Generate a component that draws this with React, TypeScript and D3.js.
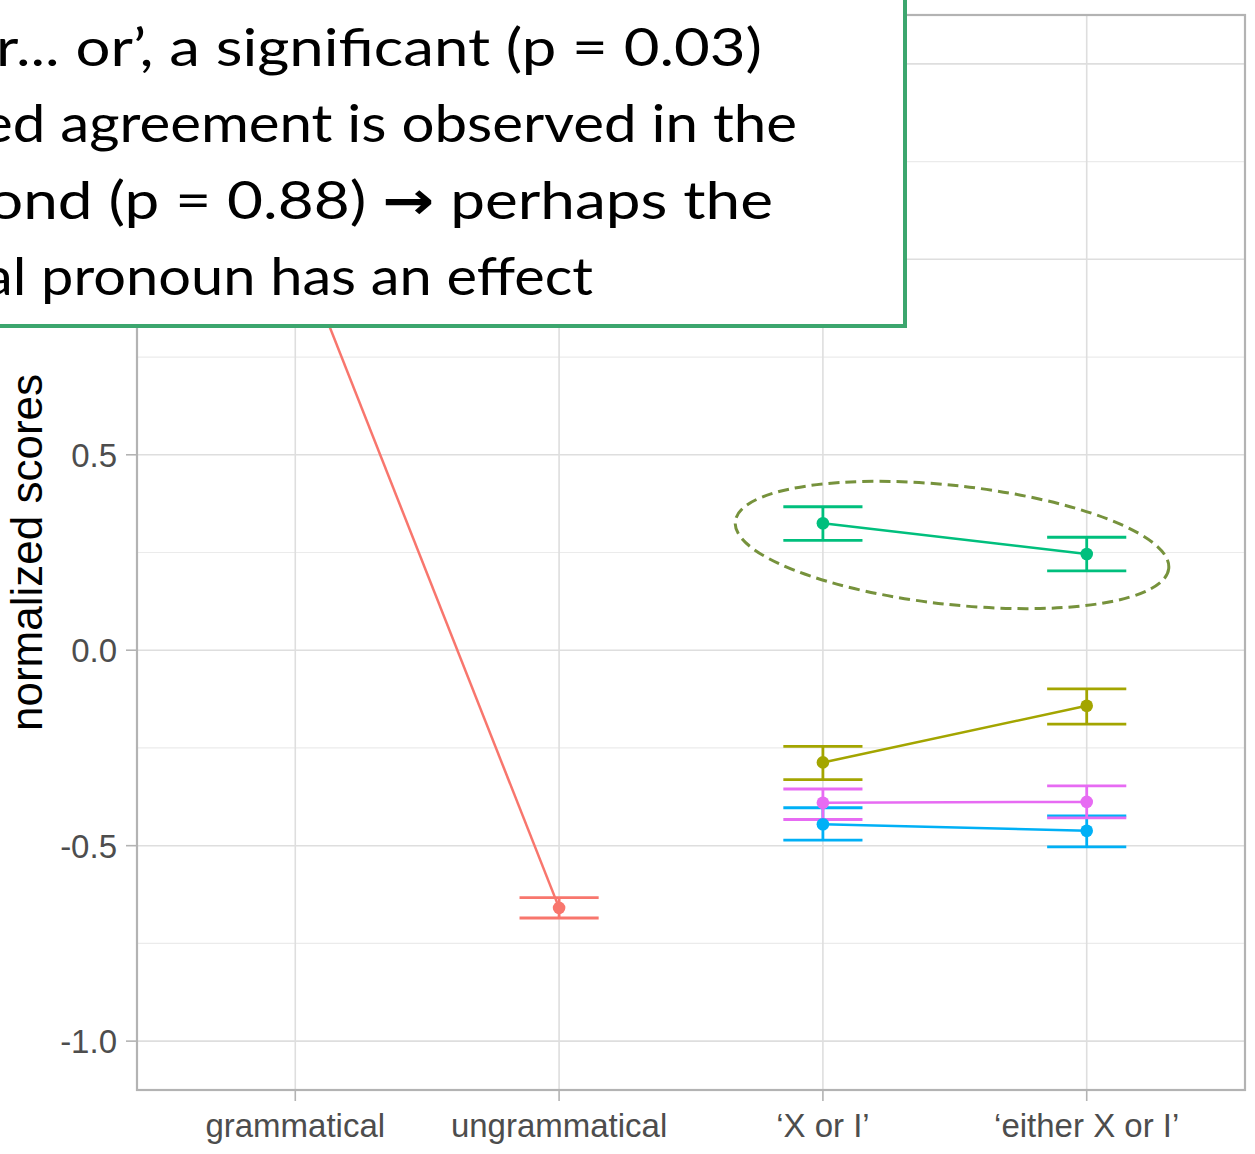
import React from "react";
import * as d3 from "d3";

// ---------- data ----------
const categories = ["grammatical", "ungrammatical", "‘X or I’", "‘either X or I’"];
const yMajorTicks = [-1.0, -0.5, 0.0, 0.5, 1.0, 1.5];
const yMinorTicks = [-0.75, -0.25, 0.25, 0.75, 1.25];
const yTickLabels = ["-1.0", "-0.5", "0.0", "0.5", "1.0", "1.5"];

const seriesNames = ["baseline", "cond A", "cond B", "cond C", "cond D"];
const seriesColors = ["#F8766D", "#A3A500", "#00BF7D", "#00B0F6", "#E76BF3"];

const baselineCats = ["grammatical", "ungrammatical"];
const baselineMean = [1.05, -0.659];
const baselineLow = [1.02, -0.685];
const baselineHigh = [1.08, -0.633];

const condCats = ["‘X or I’", "‘either X or I’"];
const condAMean = [-0.287, -0.142];
const condALow = [-0.331, -0.189];
const condAHigh = [-0.246, -0.099];

const condBMean = [0.325, 0.246];
const condBLow = [0.281, 0.203];
const condBHigh = [0.367, 0.289];

const condCMean = [-0.445, -0.462];
const condCLow = [-0.486, -0.503];
const condCHigh = [-0.403, -0.424];

const condDMean = [-0.39, -0.388];
const condDLow = [-0.433, -0.429];
const condDHigh = [-0.355, -0.347];

// each line: [before-arrow, arrow, after-arrow]
const noteLines: [string, string, string][] = [
  ["r... or’, a significant (p = 0.03)", "", ""],
  ["ed agreement is observed in the", "", ""],
  ["ond (p = 0.88) ", "\u2192", " perhaps the"],
  ["al pronoun has an effect", "", ""],
];

// ---------- layout ----------
const W = 1255;
const H = 1154;
const panel = { left: 137, right: 1245, top: 15, bottom: 1090 };

type Pt = { cat: string; mean: number; lo: number; hi: number };
function build(cats: string[], m: number[], lo: number[], hi: number[]): Pt[] {
  return cats.map((c, i) => ({ cat: c, mean: m[i], lo: lo[i], hi: hi[i] }));
}
const series = [
  build(baselineCats, baselineMean, baselineLow, baselineHigh),
  build(condCats, condAMean, condALow, condAHigh),
  build(condCats, condBMean, condBLow, condBHigh),
  build(condCats, condCMean, condCLow, condCHigh),
  build(condCats, condDMean, condDLow, condDHigh),
];

export default function App() {
  const x = d3
    .scalePoint<string>()
    .domain(categories)
    .range([panel.left, panel.right])
    .padding(0.6);
  const step = x.step();
  const y = d3.scaleLinear().domain([-1.125, 1.625]).range([panel.bottom, panel.top]);
  const line = d3
    .line<Pt>()
    .x((d) => x(d.cat)!)
    .y((d) => y(d.mean));
  const halfBar = step * 0.15;

  const axisFont = "'Liberation Sans', Arial, sans-serif";

  // annotation text x extents
  const noteStart = [-4, -18, -12, -16];
  const noteEnd = [762, 797, 773, 593];
  const noteBase = [66, 142, 219, 295];

  return (
    <svg
      width={W}
      height={H}
      style={{ position: "absolute", left: 0, top: 0, display: "block", background: "#fff" }}
    >
      <rect x={0} y={0} width={W} height={H} fill="#fff" />
      {/* grid */}
      {yMinorTicks.map((t) => (
        <line key={"mi" + t} x1={panel.left} x2={panel.right} y1={y(t)} y2={y(t)} stroke="#ebebeb" strokeWidth={1.2} />
      ))}
      {yMajorTicks.map((t) => (
        <line key={"ma" + t} x1={panel.left} x2={panel.right} y1={y(t)} y2={y(t)} stroke="#dedede" strokeWidth={1.6} />
      ))}
      {categories.map((c) => (
        <line key={"vx" + c} x1={x(c)} x2={x(c)} y1={panel.top} y2={panel.bottom} stroke="#dedede" strokeWidth={1.6} />
      ))}
      {/* panel border */}
      <rect
        x={panel.left}
        y={panel.top}
        width={panel.right - panel.left}
        height={panel.bottom - panel.top}
        fill="none"
        stroke="#b3b3b3"
        strokeWidth={2.2}
      />
      {/* ticks */}
      {yMajorTicks.map((t) => (
        <line key={"yt" + t} x1={panel.left - 11} x2={panel.left} y1={y(t)} y2={y(t)} stroke="#b3b3b3" strokeWidth={1.6} />
      ))}
      {categories.map((c) => (
        <line key={"xt" + c} x1={x(c)} x2={x(c)} y1={panel.bottom} y2={panel.bottom + 11} stroke="#b3b3b3" strokeWidth={1.6} />
      ))}
      {/* tick labels */}
      {yMajorTicks.map((t, i) => (
        <text
          key={"yl" + t}
          x={117}
          y={y(t) + 12}
          textAnchor="end"
          fontFamily={axisFont}
          fontSize={33}
          fill="#4d4d4d"
        >
          {yTickLabels[i]}
        </text>
      ))}
      {categories.map((c) => (
        <text key={"xl" + c} x={x(c)} y={1137} textAnchor="middle" fontFamily={axisFont} fontSize={33} fill="#4d4d4d">
          {c}
        </text>
      ))}
      <text
        transform={`translate(42, ${(panel.top + panel.bottom) / 2}) rotate(-90)`}
        textAnchor="middle"
        fontFamily={axisFont}
        fontSize={44}
        fill="#000"
      >
        normalized scores
      </text>

      {/* error bars */}
      {series.map((s, si) =>
        s.map((p, pi) => {
          const cx = x(p.cat)!;
          return (
            <g key={"eb" + si + "-" + pi} stroke={seriesColors[si]} strokeWidth={2.8} fill="none">
              <line x1={cx - halfBar} x2={cx + halfBar} y1={y(p.hi)} y2={y(p.hi)} />
              <line x1={cx - halfBar} x2={cx + halfBar} y1={y(p.lo)} y2={y(p.lo)} />
              <line x1={cx} x2={cx} y1={y(p.hi)} y2={y(p.lo)} />
            </g>
          );
        })
      )}
      {/* lines */}
      {series.map((s, si) => (
        <path key={"ln" + si} d={line(s) || ""} stroke={seriesColors[si]} strokeWidth={2.5} fill="none" />
      ))}
      {/* points */}
      {series.map((s, si) =>
        s.map((p, pi) => (
          <circle key={"pt" + si + "-" + pi} cx={x(p.cat)} cy={y(p.mean)} r={6.3} fill={seriesColors[si]} />
        ))
      )}

      {/* dashed ellipse annotation */}
      <ellipse
        cx={0}
        cy={0}
        rx={218}
        ry={59.5}
        transform={`translate(952, 545) rotate(6.2)`}
        fill="none"
        stroke="#76923C"
        strokeWidth={3}
        strokeDasharray="11 6"
      />

      {/* text box annotation */}
      <rect x={-20} y={-20} width={925} height={346} fill="#fff" stroke="#3CA66E" strokeWidth={4} />
      {noteLines.map((t, i) => (
        <text
          key={"nt" + i}
          x={noteStart[i]}
          y={noteBase[i]}
          fontFamily="Lato, 'Noto Sans', sans-serif"
          fontSize={53}
          fill="#000"
          textLength={noteEnd[i] - noteStart[i]}
          lengthAdjust="spacingAndGlyphs"
        >
          {t[0]}
          {t[1] ? (
            <tspan fontFamily="'DejaVu Sans', sans-serif" fontWeight="bold">
              {t[1]}
            </tspan>
          ) : null}
          {t[2]}
        </text>
      ))}
    </svg>
  );
}
